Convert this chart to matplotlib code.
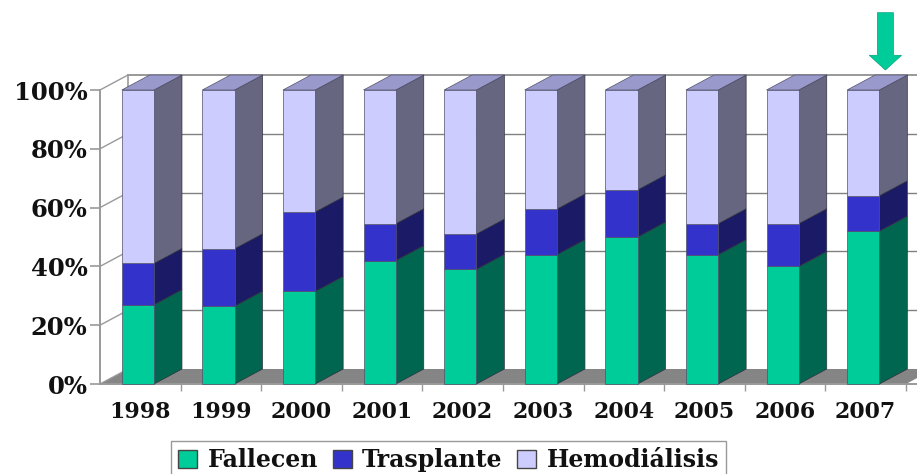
import matplotlib
matplotlib.use('Agg')
import matplotlib.pyplot as plt
from matplotlib.patches import FancyArrow, Patch

years = ['1998', '1999', '2000', '2001', '2002', '2003', '2004', '2005', '2006', '2007']
fallecen = [27, 26.5, 31.5, 42, 39, 44, 50, 44, 40, 52]
trasplante = [14, 19.5, 27, 12.5, 12, 15.5, 16, 10.5, 14.5, 12]
hemodialisis = [59, 54, 41.5, 45.5, 49, 40.5, 34, 45.5, 45.5, 36]
yticks = [0, 20, 40, 60, 80, 100]
series = [
    (fallecen, 'Fallecen', '#00CC99', '#006650', '#00A67C'),
    (trasplante, 'Trasplante', '#3333CC', '#1A1A66', '#26269A'),
    (hemodialisis, 'Hemodiálisis', '#CCCCFF', '#666680', '#9999CC'),
]

# depth of the fake 3d, in data units
DX = 0.347
DY = 5.1
BAR_W = 0.4
X0, X1 = -0.5, 9.637
FONT = 'DejaVu Serif'

fig = plt.figure(figsize=(9.17, 4.74), dpi=100)
ax = fig.add_axes([100 / 917, 90 / 474, 817 / 917, 294 / 474])
ax.set_xlim(X0, X1)
ax.set_ylim(0, 100)
for s in ax.spines.values():
    s.set_visible(False)

grey = '#999999'
# floor
ax.fill([X0, 9.5, 9.5 + DX, X0 + DX], [0, 0, DY, DY], color='#858585', lw=0, zorder=1, clip_on=False)
# walls + grid
ax.plot([X0 + DX, X0 + DX], [DY, 100 + DY], color=grey, lw=1.2, zorder=1, clip_on=False)
ax.plot([X0 + DX, X1], [100 + DY, 100 + DY], color=grey, lw=1.4, zorder=1, clip_on=False)
ax.plot([X0, X0], [0, 100], color=grey, lw=1.4, zorder=1, clip_on=False)
ax.plot([X0, X1], [0, 0], color=grey, lw=1.4, zorder=2, clip_on=False)
for t in yticks:
    ax.plot([X0, X0 + DX], [t, t + DY], color=grey, lw=1.0, zorder=1, clip_on=False)
    if 0 < t < 100:
        ax.plot([X0 + DX, X1], [t + DY, t + DY], color='#808080', lw=1.0, zorder=1, clip_on=False)

# bars, bottom up
for i in range(len(years)):
    left = i - 0.03 - BAR_W / 2
    right = left + BAR_W
    base = 0
    for vals, name, front, side, top in series:
        h = vals[i]
        ax.fill([right, right + DX, right + DX, right], [base, base + DY, base + h + DY, base + h],
                facecolor=side, edgecolor='#303040', lw=0.5, zorder=3 + i, clip_on=False)
        ax.fill([left, right, right, left], [base, base, base + h, base + h],
                facecolor=front, edgecolor='#50506A', lw=0.5, zorder=3 + i, clip_on=False)
        base += h
    ax.fill([left, right, right + DX, left + DX], [base, base, base + DY, base + DY],
            facecolor=series[-1][4], edgecolor='#50506A', lw=0.5, zorder=3 + i, clip_on=False)

ax.set_yticks(yticks)
ax.set_yticklabels([str(t) + '%' for t in yticks], fontfamily=FONT, fontweight='bold', fontsize=17.5, color='#111111')
ax.tick_params(axis='y', length=7, width=1.2, color=grey, pad=2)
ax.set_xticks(range(len(years)))
ax.set_xticklabels(years, fontfamily=FONT, fontweight='bold', fontsize=15.8, color='#111111')
ax.tick_params(axis='x', which='major', length=0, pad=12)
ax.set_xticks([i + 0.5 for i in range(10)], minor=True)
ax.tick_params(axis='x', which='minor', length=5, width=1.0, color=grey)

# arrow over 2007
ax.add_patch(FancyArrow(9.245, 126.3, 0, -19.5, width=0.2, head_width=0.4, head_length=5,
                        length_includes_head=True, facecolor='#00CC99', edgecolor='#00A67C', lw=0.5,
                        clip_on=False, zorder=20))

handles = [Patch(facecolor=c[2], edgecolor='#444444', label=c[1]) for c in series]
leg = fig.legend(handles=handles, loc='upper left', bbox_to_anchor=(171 / 917, 1 - 441 / 474), ncol=3,
                 prop={'family': FONT, 'weight': 'bold', 'size': 17}, fancybox=False, framealpha=1,
                 edgecolor=grey, handlelength=0.8, handleheight=0.8, handletextpad=0.45, columnspacing=0.62,
                 borderpad=0.3, borderaxespad=0)
for t in leg.get_texts():
    t.set_color('#111111')

fig.savefig('out.png', dpi=100)
